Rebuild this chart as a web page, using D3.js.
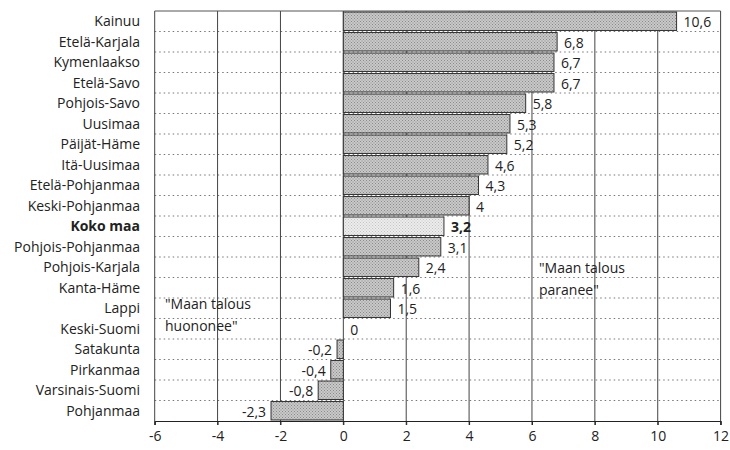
<!DOCTYPE html>
<html><head><meta charset="utf-8">
<script src="https://cdn.jsdelivr.net/npm/d3@7"></script>
<style>body{margin:0;background:#fff}svg{display:block}text{font-family:"Open Sans","Noto Sans",sans-serif;fill:#222}</style>
</head><body>
<svg id="c" width="730" height="450"></svg>
<script>
const regions = ["Kainuu","Etelä-Karjala","Kymenlaakso","Etelä-Savo","Pohjois-Savo","Uusimaa","Päijät-Häme","Itä-Uusimaa","Etelä-Pohjanmaa","Keski-Pohjanmaa","Koko maa","Pohjois-Pohjanmaa","Pohjois-Karjala","Kanta-Häme","Lappi","Keski-Suomi","Satakunta","Pirkanmaa","Varsinais-Suomi","Pohjanmaa"];
const values = [10.6,6.8,6.7,6.7,5.8,5.3,5.2,4.6,4.3,4,3.2,3.1,2.4,1.6,1.5,0,-0.2,-0.4,-0.8,-2.3];
const xTicks = [-6,-4,-2,0,2,4,6,8,10,12];
const highlight = "Koko maa";
const noteLeft = ["\"Maan talous","huononee\""];
const noteRight = ["\"Maan talous","paranee\""];

const svg = d3.select("#c");
const x = d3.scaleLinear().domain([-6,12]).range([154.7,720.6]);
const y = d3.scaleBand().domain(regions).range([11,421]).paddingInner(0.1).paddingOuter(0.05);
const fmt = v => String(v).replace(".", ",");

const defs = svg.append("defs");
function pat(id, bg, dot){
  const p = defs.append("pattern").attr("id",id).attr("width",3).attr("height",3).attr("patternUnits","userSpaceOnUse");
  p.append("rect").attr("width",3).attr("height",3).attr("fill",bg);
  p.append("rect").attr("width",1).attr("height",1).attr("fill",dot);
  p.append("rect").attr("x",1.5).attr("y",1.5).attr("width",1).attr("height",1).attr("fill",dot);
}
pat("pd","#c9c9c9","#8a8a8a");
pat("pl","#ececec","#c4c4c4");

const step = y.step();
const plotTop = 11, plotBottom = 421;
const bounds = regions.slice(1).map(r => y(r) - step*y.paddingInner()/2);
svg.append("g").selectAll("line").data(bounds).join("line")
  .attr("x1",x(-6)).attr("x2",x(12)).attr("y1",d=>d).attr("y2",d=>d)
  .attr("stroke","#777").attr("stroke-width",1).attr("stroke-dasharray","1.5,3");
svg.append("g").selectAll("line").data(xTicks).join("line")
  .attr("x1",d=>x(d)).attr("x2",d=>x(d)).attr("y1",plotTop).attr("y2",plotBottom+4)
  .attr("stroke","#444").attr("stroke-width",1);
svg.append("line").attr("x1",x(-6)).attr("x2",x(12)).attr("y1",plotTop).attr("y2",plotTop).attr("stroke","#555");
svg.append("g").selectAll("rect").data(regions).join("rect")
  .attr("x",(d,i)=>x(Math.min(0,values[i])))
  .attr("y",d=>y(d))
  .attr("width",(d,i)=>Math.abs(x(values[i])-x(0)))
  .attr("height",y.bandwidth())
  .attr("fill",d=>d===highlight?"url(#pl)":"url(#pd)")
  .attr("stroke","#333").attr("stroke-width",1);
const ax = svg.append("g").attr("transform",`translate(0,${plotBottom})`)
  .call(d3.axisBottom(x).tickValues(xTicks).tickSize(4).tickPadding(6).tickFormat(d=>String(d)));
ax.select(".domain").attr("stroke","#222");
ax.selectAll(".tick line").attr("stroke","#222");
ax.selectAll("text").attr("font-size",14).attr("fill","#222").attr("font-family","'Open Sans',sans-serif");
svg.append("g").selectAll("text").data(regions).join("text")
  .attr("x",140).attr("y",d=>y(d)+y.bandwidth()/2).attr("dy","0.35em")
  .attr("text-anchor","end").attr("font-size",14)
  .attr("font-weight",d=>d===highlight?"bold":"normal").text(d=>d);
svg.append("g").selectAll("text").data(regions).join("text")
  .attr("x",(d,i)=>values[i]<0 ? x(values[i])-5 : x(values[i])+7)
  .attr("y",d=>y(d)+y.bandwidth()/2+1).attr("dy","0.35em")
  .attr("text-anchor",(d,i)=>values[i]<0?"end":"start").attr("font-size",14)
  .attr("font-weight",d=>d===highlight?"bold":"normal")
  .text((d,i)=>fmt(values[i]));
svg.append("text").attr("x",165).attr("y",309).attr("font-size",14)
  .selectAll("tspan").data(noteLeft).join("tspan").attr("x",165).attr("dy",(d,i)=>i?22:0).text(d=>d);
svg.append("text").attr("x",539).attr("y",273).attr("font-size",14)
  .selectAll("tspan").data(noteRight).join("tspan").attr("x",539).attr("dy",(d,i)=>i?22:0).text(d=>d);
</script>
</body></html>
